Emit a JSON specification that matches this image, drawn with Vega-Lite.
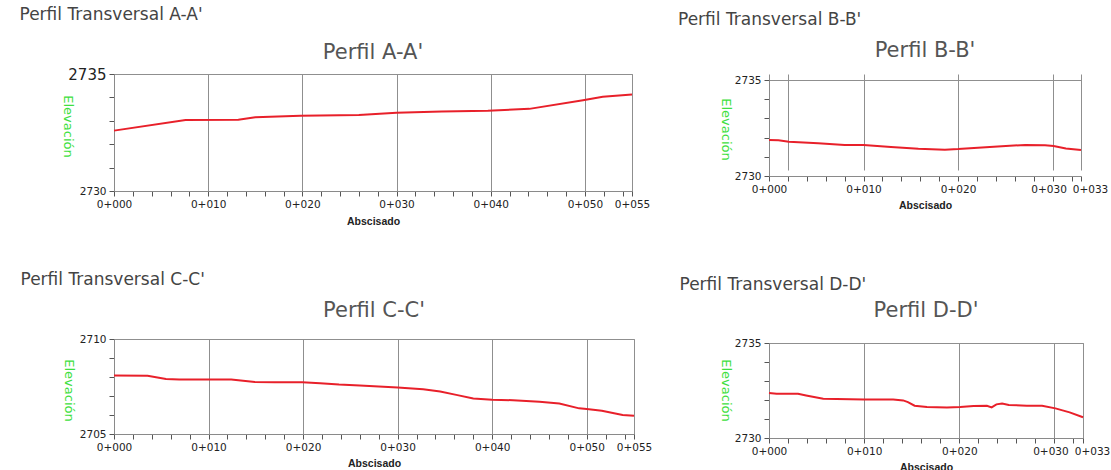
{
  "$schema": "https://vega.github.io/schema/vega-lite/v6.json",
  "padding": {"left": 19, "top": 5, "right": 0, "bottom": 0},
  "background": "white",
  "datasets": {
    "A": [
      {"abscisa": 0, "elevacion": 2732.58},
      {"abscisa": 7.6, "elevacion": 2733.03},
      {"abscisa": 13.2, "elevacion": 2733.05},
      {"abscisa": 15, "elevacion": 2733.15},
      {"abscisa": 19.8, "elevacion": 2733.22},
      {"abscisa": 26, "elevacion": 2733.25},
      {"abscisa": 30, "elevacion": 2733.34},
      {"abscisa": 34.8, "elevacion": 2733.4},
      {"abscisa": 39.7, "elevacion": 2733.43},
      {"abscisa": 44.1, "elevacion": 2733.51},
      {"abscisa": 49.8, "elevacion": 2733.88},
      {"abscisa": 51.9, "elevacion": 2734.03},
      {"abscisa": 55, "elevacion": 2734.12}
    ],
    "B": [
      {"abscisa": 0, "elevacion": 2731.88},
      {"abscisa": 1, "elevacion": 2731.86},
      {"abscisa": 2.1, "elevacion": 2731.79},
      {"abscisa": 5.2, "elevacion": 2731.7},
      {"abscisa": 8, "elevacion": 2731.62},
      {"abscisa": 10, "elevacion": 2731.61},
      {"abscisa": 12.9, "elevacion": 2731.51},
      {"abscisa": 15.8, "elevacion": 2731.42},
      {"abscisa": 18.6, "elevacion": 2731.37},
      {"abscisa": 20, "elevacion": 2731.4},
      {"abscisa": 22.1, "elevacion": 2731.47},
      {"abscisa": 24.2, "elevacion": 2731.54},
      {"abscisa": 27.1, "elevacion": 2731.62},
      {"abscisa": 29.2, "elevacion": 2731.6},
      {"abscisa": 30.1, "elevacion": 2731.56},
      {"abscisa": 31.4, "elevacion": 2731.43},
      {"abscisa": 33, "elevacion": 2731.35}
    ],
    "C": [
      {"abscisa": 0, "elevacion": 2708.08},
      {"abscisa": 3.55, "elevacion": 2708.06},
      {"abscisa": 5.5, "elevacion": 2707.9},
      {"abscisa": 6.9, "elevacion": 2707.87},
      {"abscisa": 10, "elevacion": 2707.87},
      {"abscisa": 12.4, "elevacion": 2707.87},
      {"abscisa": 14.9, "elevacion": 2707.74},
      {"abscisa": 17, "elevacion": 2707.73},
      {"abscisa": 19.9, "elevacion": 2707.73},
      {"abscisa": 21.8, "elevacion": 2707.67},
      {"abscisa": 23.8, "elevacion": 2707.6},
      {"abscisa": 26, "elevacion": 2707.55},
      {"abscisa": 30, "elevacion": 2707.45},
      {"abscisa": 32.7, "elevacion": 2707.36},
      {"abscisa": 34.5, "elevacion": 2707.24},
      {"abscisa": 36.2, "elevacion": 2707.06},
      {"abscisa": 38, "elevacion": 2706.87},
      {"abscisa": 40, "elevacion": 2706.8},
      {"abscisa": 42.2, "elevacion": 2706.78},
      {"abscisa": 45, "elevacion": 2706.7},
      {"abscisa": 47.1, "elevacion": 2706.61},
      {"abscisa": 49.2, "elevacion": 2706.35},
      {"abscisa": 50, "elevacion": 2706.31},
      {"abscisa": 51.6, "elevacion": 2706.22},
      {"abscisa": 53.8, "elevacion": 2706.0},
      {"abscisa": 55, "elevacion": 2705.96}
    ],
    "D": [
      {"abscisa": 0, "elevacion": 2732.37},
      {"abscisa": 0.8, "elevacion": 2732.33},
      {"abscisa": 3.05, "elevacion": 2732.33},
      {"abscisa": 3.9, "elevacion": 2732.24},
      {"abscisa": 5.7, "elevacion": 2732.07},
      {"abscisa": 7.1, "elevacion": 2732.05},
      {"abscisa": 10, "elevacion": 2732.02},
      {"abscisa": 13.05, "elevacion": 2732.02},
      {"abscisa": 14.1, "elevacion": 2731.98},
      {"abscisa": 14.6, "elevacion": 2731.89},
      {"abscisa": 15.3, "elevacion": 2731.7},
      {"abscisa": 16.6, "elevacion": 2731.63},
      {"abscisa": 18.7, "elevacion": 2731.6},
      {"abscisa": 20.1, "elevacion": 2731.63},
      {"abscisa": 21.5, "elevacion": 2731.68},
      {"abscisa": 22.9, "elevacion": 2731.7},
      {"abscisa": 23.4, "elevacion": 2731.61},
      {"abscisa": 23.9, "elevacion": 2731.77},
      {"abscisa": 24.5, "elevacion": 2731.82},
      {"abscisa": 25.2, "elevacion": 2731.74},
      {"abscisa": 27.1, "elevacion": 2731.7},
      {"abscisa": 28.7, "elevacion": 2731.7},
      {"abscisa": 30.1, "elevacion": 2731.56},
      {"abscisa": 31.6, "elevacion": 2731.35},
      {"abscisa": 33, "elevacion": 2731.09}
    ]
  },
  "config": {
    "font": "DejaVu Sans",
    "view": {"stroke": "#9a9a9a", "strokeWidth": 1},
    "axis": {
      "domainColor": "#8a8a8a",
      "ticks": true,
      "tickColor": "#555",
      "tickWidth": 1,
      "tickSize": 5,
      "gridColor": "#8f8f8f",
      "gridWidth": 1,
      "labelColor": "#222",
      "labelFont": "DejaVu Sans",
      "labelFontSize": 10.5,
      "labelOverlap": false,
      "labelFlush": false,
      "labelBound": false
    },
    "axisX": {
      "labelPadding": 3,
      "titleFont": "Liberation Sans",
      "titleFontSize": 10.5,
      "titleFontWeight": "bold",
      "titleColor": "#222",
      "titleBaseline": "middle",
      "titleY": 30
    },
    "axisY": {
      "labelPadding": 3,
      "titleFont": "DejaVu Sans",
      "titleFontSize": 13,
      "titleFontWeight": "normal",
      "titleColor": "#3ee03e",
      "titleAngle": 90,
      "titleAlign": "center",
      "titleBaseline": "middle",
      "titleX": -47
    },
    "title": {"fontWeight": "normal", "font": "DejaVu Sans"},
    "line": {"color": "#e8202a", "strokeWidth": 2}
  },
  "spacing": 25,
  "hconcat": [
    {
      "spacing": 43,
      "vconcat": [
        {
          "title": {"text": "Perfil Transversal A-A'", "anchor": "start", "dx": -40, "fontSize": 17, "color": "#444", "offset": 18},
          "vconcat": [
            {
              "width": 518,
              "height": 117,
              "title": {"text": "Perfil A-A'", "fontSize": 21, "color": "#555", "offset": 4},
              "data": {"name": "A"},
              "mark": {"type": "line"},
              "encoding": {
                "x": {
                  "field": "abscisa", "type": "quantitative",
                  "scale": {"domain": [0, 55], "nice": false, "zero": false},
                  "axis": {
                    "title": "Abscisado",
                    "values": [0, 2, 4, 6, 8, 10, 12, 14, 16, 18, 20, 22, 24, 26, 28, 30, 32, 34, 36, 38, 40, 42, 44, 46, 48, 50, 52, 54, 55],
                    "labelExpr": "(datum.value % 10 == 0 || datum.value == 55) ? '0+0' + (datum.value < 10 ? '0' : '') + datum.value : ''",
                    "grid": true,
                    "gridOpacity": {"condition": {"test": "datum.value % 10 == 0 || datum.value == 55", "value": 1}, "value": 0}
                  }
                },
                "y": {
                  "field": "elevacion", "type": "quantitative",
                  "scale": {"domain": [2730, 2735], "nice": false, "zero": false},
                  "axis": {
                    "title": "Elevación",
                    "titleY": 52,
                    "values": [2730, 2731, 2732, 2733, 2734, 2735],
                    "labelExpr": "(datum.value == 2730 || datum.value == 2735) ? '' + datum.value : ''",
                    "labelFontSize": {"condition": {"test": "datum.value == 2735", "value": 15}, "value": 10.5},
                    "grid": true,
                    "gridOpacity": {"condition": {"test": "datum.value == 2735", "value": 1}, "value": 0}
                  }
                }
              }
            }
          ]
        },
        {
          "title": {"text": "Perfil Transversal C-C'", "anchor": "start", "dx": -40, "fontSize": 17, "color": "#444", "offset": 11},
          "vconcat": [
            {
              "width": 520,
              "height": 95,
              "title": {"text": "Perfil C-C'", "fontSize": 21, "color": "#555", "offset": 13},
              "data": {"name": "C"},
              "mark": {"type": "line"},
              "encoding": {
                "x": {
                  "field": "abscisa", "type": "quantitative",
                  "scale": {"domain": [0, 55], "nice": false, "zero": false},
                  "axis": {
                    "title": "Abscisado",
                    "titleY": 29,
                    "values": [0, 2, 4, 6, 8, 10, 12, 14, 16, 18, 20, 22, 24, 26, 28, 30, 32, 34, 36, 38, 40, 42, 44, 46, 48, 50, 52, 54, 55],
                    "labelExpr": "(datum.value % 10 == 0 || datum.value == 55) ? '0+0' + (datum.value < 10 ? '0' : '') + datum.value : ''",
                    "grid": true,
                    "gridOpacity": {"condition": {"test": "datum.value % 10 == 0 || datum.value == 55", "value": 1}, "value": 0}
                  }
                },
                "y": {
                  "field": "elevacion", "type": "quantitative",
                  "scale": {"domain": [2705, 2710], "nice": false, "zero": false},
                  "axis": {
                    "title": "Elevación",
                    "titleX": -46,
                    "titleY": 51,
                    "values": [2705, 2706, 2707, 2708, 2709, 2710],
                    "labelExpr": "(datum.value == 2705 || datum.value == 2710) ? '' + datum.value : ''",
                    "grid": true,
                    "gridOpacity": {"condition": {"test": "datum.value == 2710", "value": 1}, "value": 0}
                  }
                }
              }
            }
          ]
        }
      ]
    },
    {
      "spacing": 64,
      "vconcat": [
        {
          "title": {"text": "Perfil Transversal B-B'", "anchor": "start", "dx": -40, "fontSize": 17, "color": "#444", "offset": 11},
          "vconcat": [
            {
              "width": 312,
              "height": 102,
              "view": {"stroke": null},
              "title": {"text": "Perfil B-B'", "fontSize": 21, "color": "#555", "offset": 13},
              "data": {"name": "B"},
              "mark": {"type": "line"},
              "encoding": {
                "x": {
                  "field": "abscisa", "type": "quantitative",
                  "scale": {"domain": [0, 33], "nice": false, "zero": false},
                  "axis": {
                    "title": "Abscisado",
                    "titleY": 29,
                    "values": [0, 2, 4, 6, 8, 10, 12, 14, 16, 18, 20, 22, 24, 26, 28, 30, 32, 33],
                    "labelExpr": "(datum.value % 10 == 0 || datum.value == 33) ? '0+0' + (datum.value < 10 ? '0' : '') + datum.value : ''",
                    "labelOffset": {"condition": [{"test": "datum.value == 33", "value": 9}, {"test": "datum.value == 30", "value": -4}], "value": 0},
                    "grid": true,
                    "gridOpacity": {"condition": {"test": "datum.value % 10 == 0 || datum.value == 33 || datum.value == 2", "value": 1}, "value": 0}
                  }
                },
                "y": {
                  "field": "elevacion", "type": "quantitative",
                  "scale": {"domain": [2730, 2735], "range": [102, 6], "nice": false, "zero": false},
                  "axis": {
                    "title": "Elevación",
                    "titleX": -44,
                    "titleY": 55,
                    "values": [2730, 2731, 2732, 2733, 2734, 2735],
                    "labelExpr": "(datum.value == 2730 || datum.value == 2735) ? '' + datum.value : ''",
                    "grid": true,
                    "gridOpacity": {"condition": {"test": "datum.value == 2735", "value": 1}, "value": 0}
                  }
                }
              }
            }
          ]
        },
        {
          "title": {"text": "Perfil Transversal D-D'", "anchor": "start", "dx": -38, "fontSize": 17, "color": "#444", "offset": 6},
          "vconcat": [
            {
              "width": 314,
              "height": 95,
              "title": {"text": "Perfil D-D'", "fontSize": 21, "color": "#555", "offset": 17},
              "data": {"name": "D"},
              "mark": {"type": "line"},
              "encoding": {
                "x": {
                  "field": "abscisa", "type": "quantitative",
                  "scale": {"domain": [0, 33], "nice": false, "zero": false},
                  "axis": {
                    "title": "Abscisado",
                    "titleY": 29,
                    "values": [0, 2, 4, 6, 8, 10, 12, 14, 16, 18, 20, 22, 24, 26, 28, 30, 32, 33],
                    "labelExpr": "(datum.value % 10 == 0 || datum.value == 33) ? '0+0' + (datum.value < 10 ? '0' : '') + datum.value : ''",
                    "labelOffset": {"condition": [{"test": "datum.value == 33", "value": 9}, {"test": "datum.value == 30", "value": -4}], "value": 0},
                    "grid": true,
                    "gridOpacity": {"condition": {"test": "datum.value % 10 == 0 || datum.value == 33", "value": 1}, "value": 0}
                  }
                },
                "y": {
                  "field": "elevacion", "type": "quantitative",
                  "scale": {"domain": [2730, 2735], "nice": false, "zero": false},
                  "axis": {
                    "title": "Elevación",
                    "titleX": -44,
                    "titleY": 47,
                    "values": [2730, 2731, 2732, 2733, 2734, 2735],
                    "labelExpr": "(datum.value == 2730 || datum.value == 2735) ? '' + datum.value : ''",
                    "grid": true,
                    "gridOpacity": {"condition": {"test": "datum.value == 2735", "value": 1}, "value": 0}
                  }
                }
              }
            }
          ]
        }
      ]
    }
  ]
}
